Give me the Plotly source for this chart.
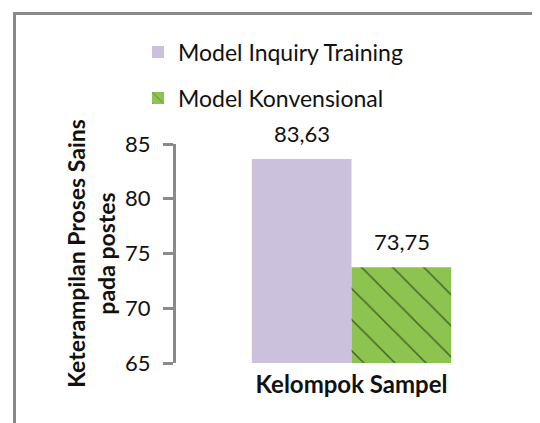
import plotly.graph_objects as go

categories = ["Kelompok Sampel"]
series_names = ["Model Inquiry Training", "Model Konvensional"]
inquiry_values = [83.63]
konvensional_values = [73.75]
y_ticks = [65, 70, 75, 80, 85]

FONT = "Lato"
OFF = 8  # page body margin in the browser
# target plot-area edges in window pixels
PL, PR, PT, PB = 176, 527, 144, 363
W, H = 540 - OFF, 423 - OFF
L, T = PL - OFF, PT - OFF
R, B = W - (PR - OFF), H - (PB - OFF)
PW, PH = W - L - R, H - T - B

def px_x(p):
    return (p - PL) / PW

def px_y(p):
    return (PB - p) / PH

def fmt(v):
    return f"{v:.2f}".replace(".", ",")

fig = go.Figure()
fig.add_trace(go.Bar(
    x=categories, y=inquiry_values, name=series_names[0],
    marker=dict(color="#CBC1DC", line=dict(width=0)),
    legend="legend",
))
fig.add_trace(go.Bar(
    x=categories, y=konvensional_values, name=series_names[1],
    marker=dict(color="#8DC450", line=dict(width=0),
                pattern=dict(shape="\\", size=22, solidity=0.07, fgcolor="#000000", bgcolor="#8DC450")),
    legend="legend2",
))

annotations = []
for vals, shift in [(inquiry_values, -50), (konvensional_values, 50)]:
    for c, v in zip(categories, vals):
        annotations.append(dict(
            x=c, y=v, xref="x", yref="y", text=fmt(v), showarrow=False,
            xshift=shift, yshift=10, yanchor="bottom",
            font=dict(family=FONT, size=22, color="#111111"),
        ))

shapes = [
    dict(type="line", xref="paper", yref="paper", x0=px_x(13), x1=px_x(560),
         y0=px_y(13.5), y1=px_y(13.5), line=dict(color="#8A8A8A", width=3)),
    dict(type="line", xref="paper", yref="paper", x0=px_x(14.5), x1=px_x(14.5),
         y0=px_y(12), y1=px_y(440), line=dict(color="#8A8A8A", width=3)),
]

fig.update_layout(
    width=W, height=H,
    margin=dict(l=L, r=R, t=T, b=B, autoexpand=False),
    paper_bgcolor="white", plot_bgcolor="white",
    barmode="group", bargap=0.432, bargroupgap=0,
    font=dict(family=FONT, color="#111111"),
    showlegend=True,
    legend=dict(x=px_x(138), y=px_y(52), xanchor="left", yanchor="middle",
                bgcolor="rgba(0,0,0,0)", font=dict(family=FONT, size=23, color="#111111")),
    legend2=dict(x=px_x(138), y=px_y(98), xanchor="left", yanchor="middle",
                 bgcolor="rgba(0,0,0,0)", font=dict(family=FONT, size=23, color="#111111")),
    xaxis=dict(showline=False, showgrid=False, zeroline=False, ticks="",
               tickfont=dict(family=FONT, size=24, color="#111111", weight="bold"),
               ticklabelstandoff=5),
    yaxis=dict(range=[65, 85], tickvals=y_ticks, showgrid=False, zeroline=False,
               showline=True, linecolor="#8A8A8A", linewidth=3,
               ticks="outside", ticklen=10, tickwidth=3, tickcolor="#8A8A8A",
               ticklabelstandoff=8,
               tickfont=dict(family=FONT, size=22, color="#111111"),
               title=dict(text="<b>Keterampilan Proses Sains<br>pada postes</b>",
                          font=dict(family=FONT, size=23, color="#111111"), standoff=4)),
    annotations=annotations,
    shapes=shapes,
)

fig.write_html("out.html")
